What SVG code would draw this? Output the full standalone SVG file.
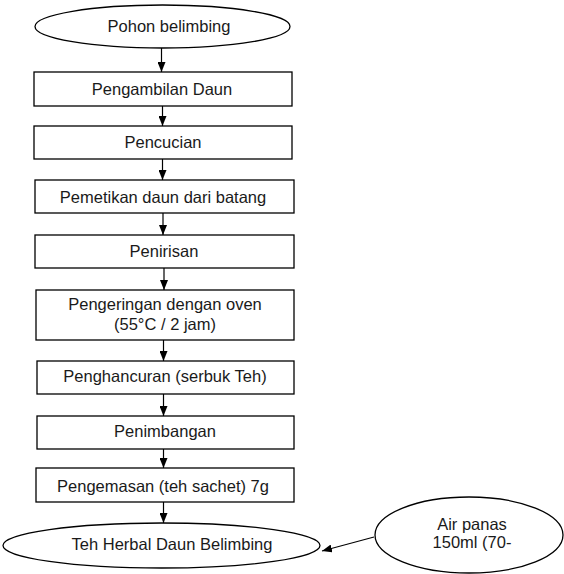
<svg xmlns="http://www.w3.org/2000/svg" width="564" height="574" viewBox="0 0 564 574">
<defs>
<marker id="ah" viewBox="0 0 10 8" refX="10" refY="4" markerWidth="10" markerHeight="8" markerUnits="userSpaceOnUse" orient="auto">
<path d="M0,0 L10,4 L0,8 z" fill="#000"/>
</marker>
<style>
.s{fill:#fff;stroke:#000;stroke-width:1.3}
.t{font-family:"Liberation Sans",Arial,sans-serif;font-size:16.5px;fill:#1a1a1a;text-anchor:middle}
.c{stroke:#000;stroke-width:1.2;fill:none;marker-end:url(#ah)}
</style>
</defs>
<rect width="564" height="574" fill="#fff"/>
<g id="connectors">
<line class="c" x1="161.5" y1="48" x2="161.5" y2="72"/>
<line class="c" x1="162.5" y1="106" x2="162.5" y2="126"/>
<line class="c" x1="162.5" y1="159" x2="162.5" y2="180"/>
<line class="c" x1="163" y1="213" x2="163" y2="235"/>
<line class="c" x1="164" y1="268" x2="164" y2="290"/>
<line class="c" x1="163.5" y1="340" x2="163.5" y2="361"/>
<line class="c" x1="163.5" y1="394" x2="163.5" y2="416"/>
<line class="c" x1="163.5" y1="449" x2="163.5" y2="468"/>
<line class="c" x1="163.5" y1="502" x2="163.5" y2="523"/>
<line class="c" x1="374" y1="537" x2="322" y2="551"/>
</g>
<g id="n0"><ellipse class="s" cx="162.5" cy="26.5" rx="127.5" ry="21.5"/><text class="t" x="169" y="32">Pohon belimbing</text></g>
<g id="n1"><rect class="s" x="34" y="72" width="258" height="34"/><text class="t" x="162" y="94.5">Pengambilan Daun</text></g>
<g id="n2"><rect class="s" x="34" y="126" width="258" height="33"/><text class="t" x="163" y="148">Pencucian</text></g>
<g id="n3"><rect class="s" x="35" y="180" width="259" height="33"/><text class="t" x="163" y="202.5">Pemetikan daun dari batang</text></g>
<g id="n4"><rect class="s" x="35" y="235" width="259" height="33"/><text class="t" x="164" y="256.5">Penirisan</text></g>
<g id="n5"><rect class="s" x="36" y="290" width="258" height="50"/><text class="t" x="165" y="310">Pengeringan dengan oven</text><text class="t" x="165" y="330">(55°C / 2 jam)</text></g>
<g id="n6"><rect class="s" x="37" y="361" width="257" height="33"/><text class="t" x="165" y="382">Penghancuran (serbuk Teh)</text></g>
<g id="n7"><rect class="s" x="37" y="416" width="257" height="33"/><text class="t" x="165" y="437">Penimbangan</text></g>
<g id="n8"><rect class="s" x="36" y="468" width="258" height="34"/><text class="t" x="163" y="492">Pengemasan (teh sachet) 7g</text></g>
<g id="n9"><ellipse class="s" cx="161.5" cy="545.5" rx="158.5" ry="22.5"/><text class="t" x="172" y="550">Teh Herbal Daun Belimbing</text></g>
<g id="n10"><ellipse class="s" cx="469" cy="535" rx="94" ry="38"/><text class="t" x="472" y="530">Air panas</text><text class="t" x="472" y="548">150ml (70-</text></g>
</svg>
